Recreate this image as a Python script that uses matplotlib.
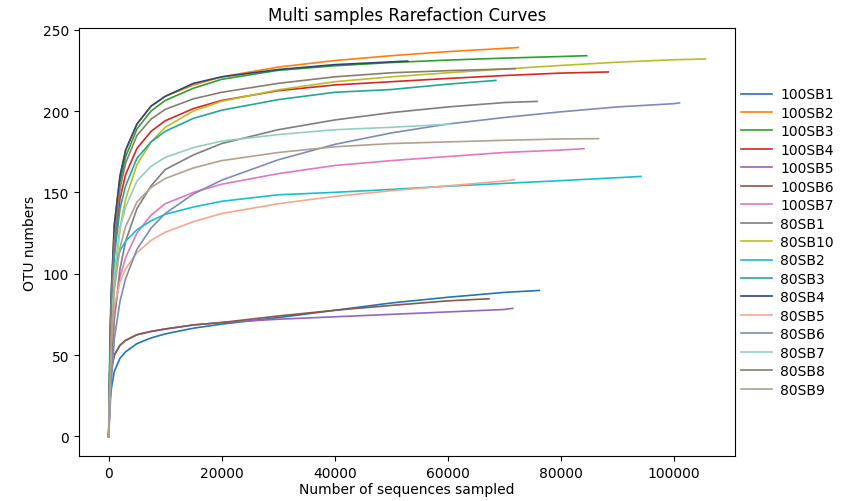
import numpy as np
import matplotlib
matplotlib.use("Agg")
import matplotlib.pyplot as plt

# sampled depths shared by all curves (each curve stops at its own end)
depth = [0, 250, 500, 1000, 2000, 3000, 5000, 7500, 10000, 15000, 20000,
         30000, 40000, 50000, 60000, 70000, 80000, 90000, 100000]

samples = ["100SB1", "100SB2", "100SB3", "100SB4", "100SB5", "100SB6", "100SB7",
           "80SB1", "80SB10", "80SB2", "80SB3", "80SB4", "80SB5", "80SB6",
           "80SB7", "80SB8", "80SB9"]

end_x = [76200, 72500, 84600, 88400, 71500, 67300, 84100,
         75800, 105600, 94200, 68500, 52900, 71800, 101000,
         60500, 71900, 86700]

# OTU values at depth[i], last value is the value at end_x
otu = [
    [0, 22, 30, 40, 48, 52, 57, 60.5, 63, 66.5, 69, 73, 77.5, 82, 85.5, 88.5, 89.7],
    [0, 55, 92, 130, 160, 176, 192, 203, 209, 216, 221, 227, 231, 234, 236.5, 238.5, 239],
    [0, 50, 88, 125, 156, 172, 189, 200, 206.5, 214, 219.5, 225, 227.8, 229.8, 231.3, 232.5, 233.5, 234],
    [0, 50, 82, 115, 146, 161, 177, 187.5, 194, 201.5, 206.5, 212.5, 216, 218, 220, 221.8, 223.3, 224],
    [0, 33, 42, 50, 56, 59, 62.5, 64.5, 66, 68.5, 70, 72, 73.5, 75, 76.5, 78, 78.7],
    [0, 33, 42, 50, 56, 59, 62.5, 64.5, 66, 68.5, 70, 74, 77.5, 80.5, 83.3, 84.6],
    [0, 28, 50, 75, 98, 110, 125, 136, 143, 150, 155, 161.5, 166.5, 169.5, 172, 174.5, 176, 176.8],
    [0, 25, 45, 72, 103, 120, 140, 154, 164, 173, 180, 188.5, 194.5, 199, 202.5, 205.2, 205.9],
    [0, 35, 62, 95, 128, 146, 167, 181, 190, 200, 206, 213, 218, 221, 223.5, 225.8, 228, 230, 231.5, 232],
    [0, 70, 90, 104, 114, 120, 127, 132.5, 136.5, 141, 144.5, 148.5, 150, 151.8, 153.8, 155.5, 157.2, 159, 159.8],
    [0, 45, 78, 110, 140, 154, 171, 181, 187.5, 195.5, 200.5, 207, 211.5, 213.2, 216.5, 218.8],
    [0, 55, 92, 130, 160, 176, 192, 203, 209, 217, 221, 225.5, 228.5, 230.2, 230.7],
    [0, 40, 62, 80, 95, 103, 113, 120.5, 125.5, 132, 137, 143, 147.5, 151, 154, 157, 157.8],
    [0, 18, 35, 60, 83, 97, 115, 128, 137, 149, 157.5, 170, 179.5, 186.5, 192, 196, 199.5, 202.5, 204.5, 205],
    [0, 40, 68, 100, 128, 141, 157, 166, 171.5, 177.5, 181.5, 185.5, 188.5, 190, 191.8, 192],
    [0, 55, 88, 120, 152, 168, 185, 195, 201, 207.5, 211.5, 217, 221, 223.5, 224.8, 225.8, 226],
    [0, 35, 62, 90, 116, 129, 144, 153, 158.5, 165, 169.5, 174.5, 178, 180, 181, 182, 182.8, 183],
]

colors = ["#1f77b4", "#ff7f0e", "#2ca02c", "#d62728", "#9467bd", "#8c564b", "#e377c2",
          "#7f7f7f", "#bcbd22", "#17becf", "#1fa89a", "#2f4677", "#f4a98c", "#7d8bb8",
          "#8fd0c2", "#8a7c72", "#b4a08e"]

fig = plt.figure(figsize=(8.57, 5.02), dpi=100)
ax = fig.add_axes([0.092, 0.09, 0.766, 0.852])

for name, ys, xe, c in zip(samples, otu, end_x, colors):
    xs = depth[:len(ys) - 1] + [xe]
    ax.plot(xs, ys, color=c, lw=1.2, label=name)

ax.set_title("Multi samples Rarefaction Curves", fontsize=12)
ax.set_xlabel("Number of sequences sampled", fontsize=10, labelpad=2)
ax.set_ylabel("OTU numbers", fontsize=10)
ax.set_xticks([0, 20000, 40000, 60000, 80000, 100000])
ax.set_yticks([0, 50, 100, 150, 200, 250])
ax.legend(loc="center left", bbox_to_anchor=(0.99, 0.5), frameon=False,
          fontsize=10, handlelength=2.2, handletextpad=0.6, labelspacing=0.32)

fig.savefig("out.png", dpi=100)
